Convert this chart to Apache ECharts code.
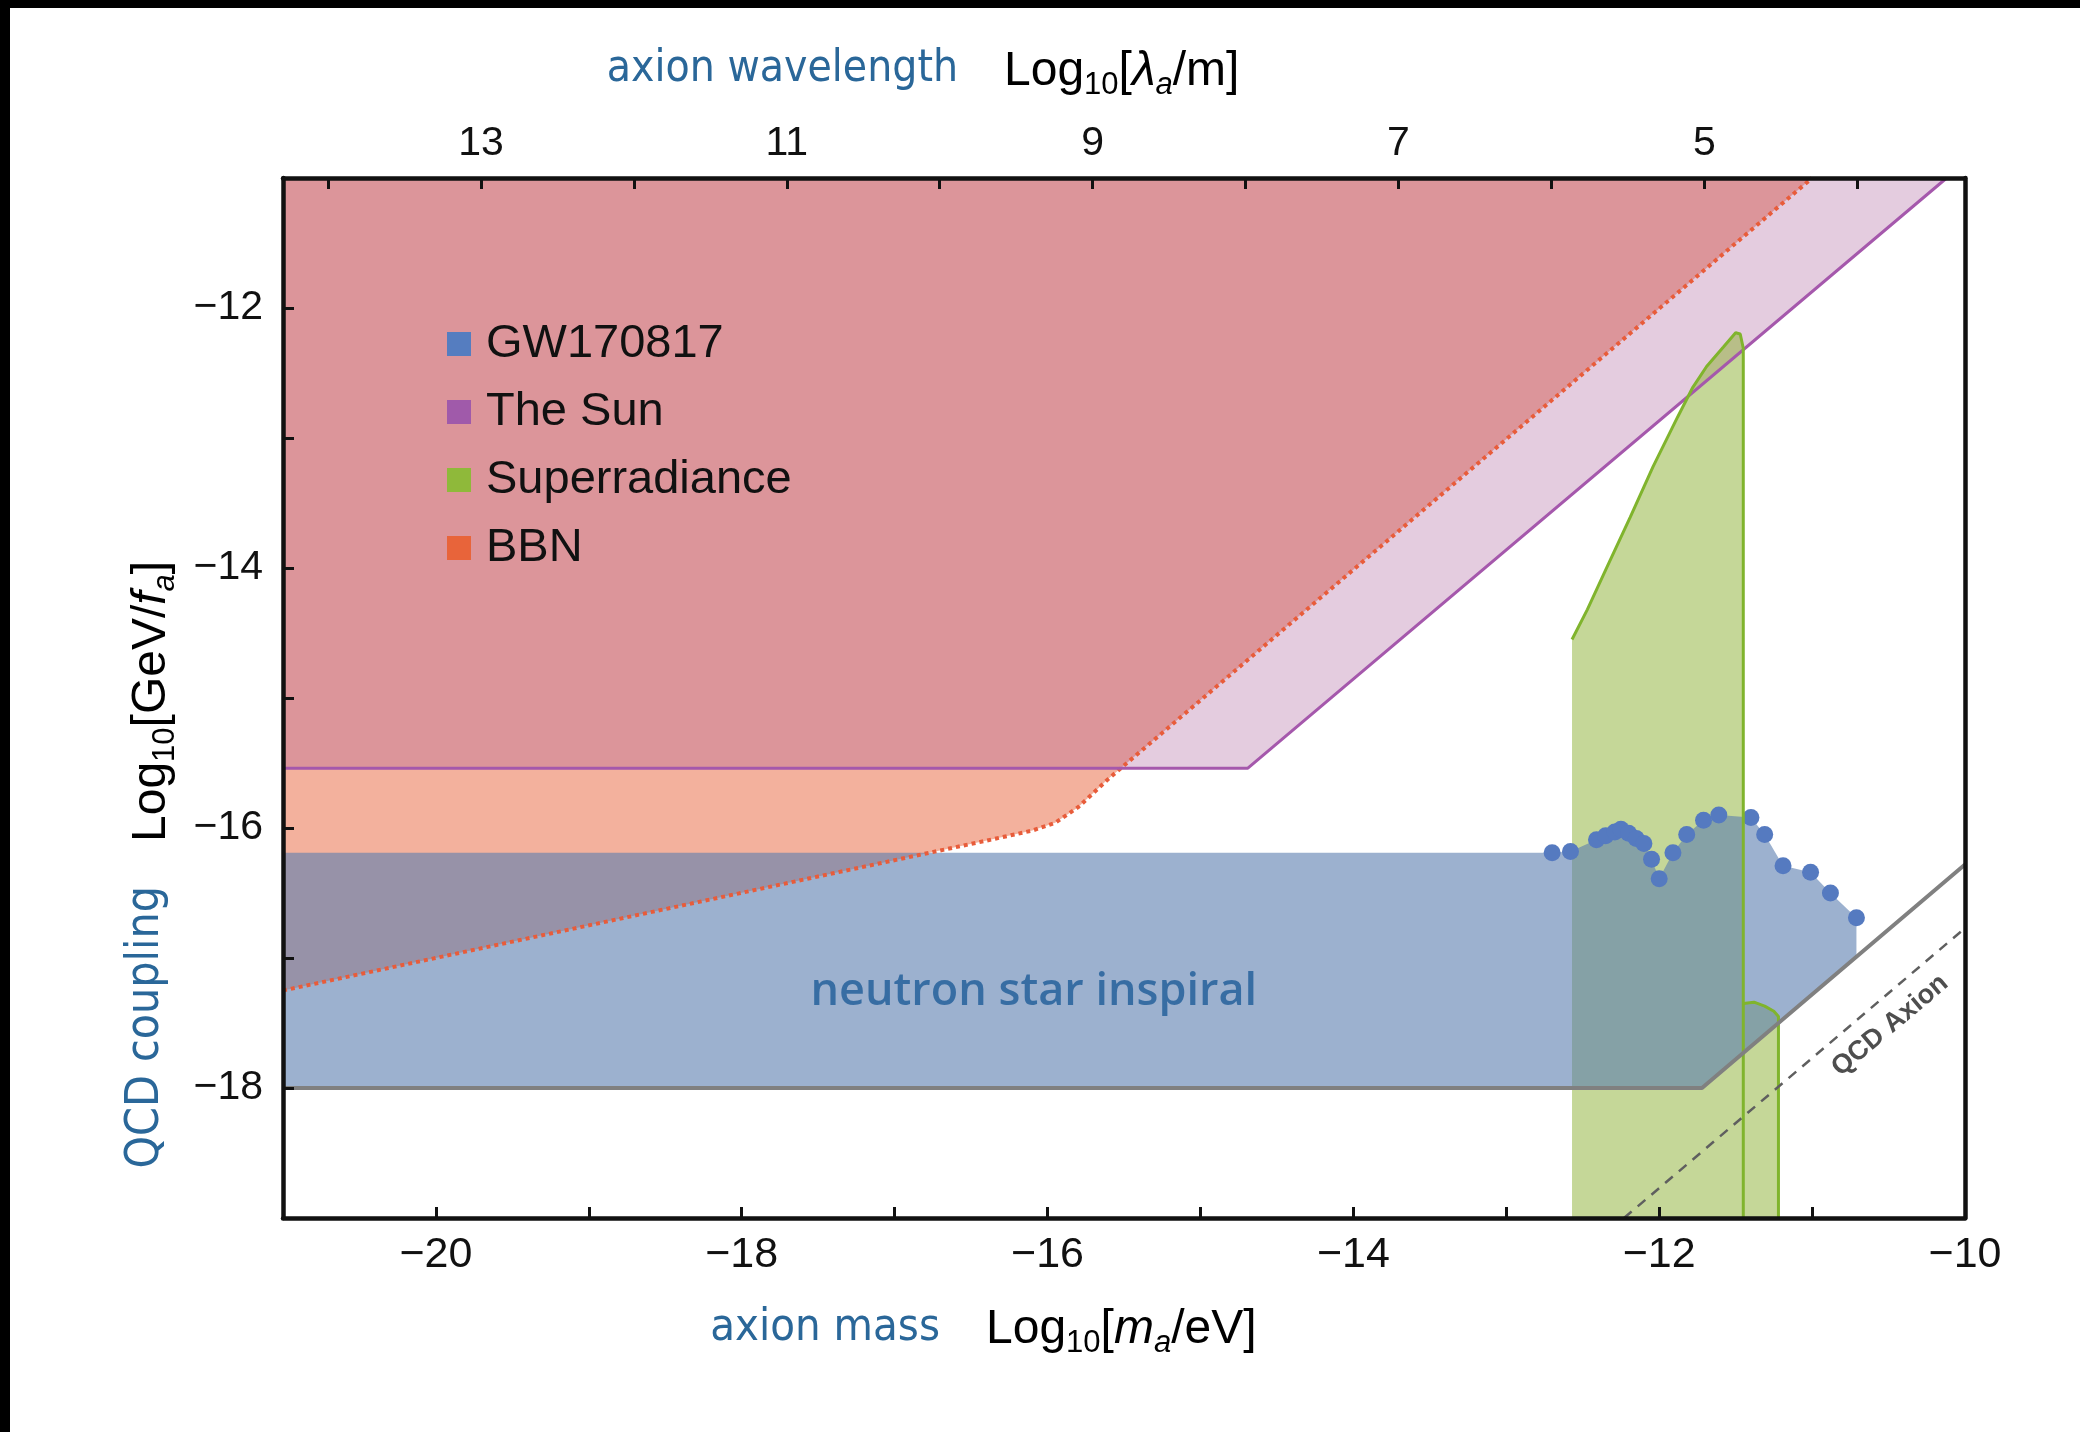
<!DOCTYPE html>
<html><head><meta charset="utf-8">
<script src="https://cdn.jsdelivr.net/npm/echarts@6/dist/echarts.min.js"></script>
<style>
html,body{margin:0;padding:0;background:#000;width:2080px;height:1432px;overflow:hidden}
#c{position:absolute;left:10px;top:8px;width:2070px;height:1424px;background:#fff}
</style></head><body><div id="c"></div>
<script>
// ---- axes ----
const massRange = [-21, -10];          // log10(m_a/eV)
const couplingRange = [-19, -11];      // log10(GeV/f_a)
const lambdaOffset = 6.705;            // log10(lambda/m) = -log10(m/eV) - 6.705
const topTickValues = [4, 5, 6, 7, 8, 9, 10, 11, 12, 13, 14];
const topLabelValues = [5, 7, 9, 11, 13];

// ---- BBN boundary (dotted) ----
const bbnM = [-21, -16.45, -16.1, -15.95, -15.8, -15.6, -11.0];
const bbnG = [-17.25, -16.11, -16.02, -15.96, -15.84, -15.62, -11.0];

// ---- The Sun boundary ----
const sunM = [-21, -14.69, -10.12];
const sunG = [-15.54, -15.54, -11.0];

// ---- Superradiance ----
const srM = [-12.57, -12.57, -12.47, -12.34, -12.19, -12.04, -11.88, -11.78, -11.69, -11.58, -11.50, -11.47, -11.45, -11.45];
const srG = [-19.0, -14.55, -14.32, -13.99, -13.61, -13.22, -12.84, -12.61, -12.45, -12.30, -12.19, -12.20, -12.31, -19.0];
const sr2M = [-11.45, -11.45, -11.38, -11.31, -11.25, -11.22, -11.22];
const sr2G = [-19.0, -17.35, -17.34, -17.37, -17.41, -17.45, -19.0];

// ---- GW170817 ----
const gwDotM = [-12.70, -12.58, -12.41, -12.35, -12.29, -12.25, -12.20, -12.15, -12.10, -12.05, -12.00, -11.91, -11.82, -11.71, -11.61, -11.40, -11.31, -11.19, -11.01, -10.88, -10.71];
const gwDotG = [-16.19, -16.18, -16.09, -16.06, -16.03, -16.01, -16.04, -16.08, -16.12, -16.24, -16.39, -16.19, -16.05, -15.94, -15.90, -15.92, -16.05, -16.29, -16.34, -16.50, -16.69];
const gwFlatG = -16.19;
const gwEdgeM = [-10.71, -11.72, -21];
const gwEdgeG = [-16.99, -18.0, -18.0];
const grayM = [-21, -11.72, -10.0];
const grayG = [-18.0, -18.0, -16.28];

// ---- QCD axion line ----
const qcdM = [-12.23, -10.0];
const qcdG = [-19.0, -16.77];

// ---- annotations ----
const nsLabel = { text: 'neutron star inspiral', m: -16.09, g: -17.26 };
const qcdLabel = { text: 'QCD Axion', m: -10.49, g: -17.52 };

const legendNames = ['GW170817', 'The Sun', 'Superradiance', 'BBN'];
const legendColors = ['#557dc0', '#a05aaa', '#8fb93a', '#e8643a'];

const zip = (a, b) => a.map((v, i) => [v, b[i]]);

function polySeries(name, pts, fill) {
  return {
    name, type: 'custom', coordinateSystem: 'cartesian2d',
    data: pts, clip: true, silent: true, encode: { x: 0, y: 1 },
    itemStyle: { color: fill },
    renderItem(params, api) {
      if (params.dataIndex !== 0) return null;
      return { type: 'polygon', shape: { points: pts.map(p => api.coord(p)) }, style: { fill: fill } };
    }
  };
}
function lineSeries(name, pts, style) {
  return {
    name, type: 'line', data: pts, showSymbol: false, silent: true, clip: true,
    lineStyle: style, animation: false
  };
}

const bbnPoly = zip(bbnM, bbnG).concat([[-21, -11]]);
const sunPoly = zip(sunM, sunG).concat([[-21, -11]]);
const srPoly = zip(srM, srG);
const sr2Poly = zip(sr2M, sr2G);
const gwPoly = [[-21, gwFlatG]].concat(zip(gwDotM, gwDotG), zip(gwEdgeM, gwEdgeG));

const minus = v => (v < 0 ? '\u2212' : '') + Math.abs(v);

function richLog() {
  const f = 'Liberation Sans, Arial, sans-serif';
  return {
    n: { fontFamily: f, fontSize: 48, lineHeight: 58, color: '#111', verticalAlign: 'middle' },
    s: { fontFamily: f, fontSize: 31, lineHeight: 34, color: '#111', verticalAlign: 'bottom' },
    i: { fontFamily: f, fontSize: 48, lineHeight: 58, fontStyle: 'italic', color: '#111', verticalAlign: 'middle' },
    is: { fontFamily: f, fontSize: 31, lineHeight: 34, fontStyle: 'italic', color: '#111', verticalAlign: 'bottom' }
  };
}
const hand = 'DejaVu Sans Condensed, Liberation Sans Narrow, Noto Sans, sans-serif';

const chart = echarts.init(document.getElementById('c'), null, { renderer: 'canvas' });
const tickFont = { fontFamily: 'Liberation Sans, Arial, sans-serif', fontSize: 41, color: '#111' };

chart.setOption({
  animation: false,
  grid: { left: 273, top: 170, right: 115, bottom: 214, containLabel: false },
  legend: {
    orient: 'vertical', left: 432, top: 306, itemWidth: 24, itemHeight: 24, itemGap: 18,
    selectedMode: false,
    textStyle: { fontFamily: 'Liberation Sans, Arial, sans-serif', fontSize: 47, color: '#111', lineHeight: 50, padding: [0, 0, 0, 10] },
    data: legendNames.map((n, i) => ({ name: n, icon: 'rect', itemStyle: { color: legendColors[i] } }))
  },
  xAxis: [
    {
      type: 'value', position: 'bottom', min: massRange[0], max: massRange[1], interval: 1, z: 10,
      axisLine: { show: true, onZero: false, lineStyle: { color: '#111', width: 4.5 } },
      axisTick: { inside: true, length: 11, lineStyle: { color: '#111', width: 3 } },
      splitLine: { show: false },
      axisLabel: Object.assign({ margin: 16, formatter: v => (v % 2 === 0 ? minus(v) : '') }, tickFont, { fontSize: 43 })
    },
    {
      type: 'value', position: 'top', inverse: true,
      min: -massRange[1] - lambdaOffset, max: -massRange[0] - lambdaOffset, z: 10,
      axisLine: { show: true, onZero: false, lineStyle: { color: '#111', width: 4.5 } },
      axisTick: { inside: true, length: 11, customValues: topTickValues, lineStyle: { color: '#111', width: 3 } },
      splitLine: { show: false },
      axisLabel: Object.assign({ margin: 14, customValues: topLabelValues, formatter: v => String(v) }, tickFont)
    }
  ],
  yAxis: [
    {
      type: 'value', position: 'left', min: couplingRange[0], max: couplingRange[1], interval: 1, z: 10,
      axisLine: { show: true, onZero: false, lineStyle: { color: '#111', width: 4.5 } },
      axisTick: { inside: true, length: 11, lineStyle: { color: '#111', width: 3 } },
      splitLine: { show: false },
      axisLabel: Object.assign({ margin: 20, formatter: v => (v % 2 === 0 ? minus(v) : '') }, tickFont)
    },
    {
      type: 'value', position: 'right', min: couplingRange[0], max: couplingRange[1], z: 10,
      axisLine: { show: true, onZero: false, lineStyle: { color: '#111', width: 4.5 } },
      axisTick: { show: false }, axisLabel: { show: false }, splitLine: { show: false }
    }
  ],
  series: [
    polySeries('BBN', bbnPoly, 'rgba(232,100,60,0.5)'),
    lineSeries('BBN edge', zip(bbnM, bbnG), { color: 'rgb(232,92,58)', width: 4, type: 'dotted' }),
    polySeries('The Sun', sunPoly, 'rgba(165,85,150,0.3)'),
    lineSeries('Sun edge', zip(sunM, sunG), { color: 'rgb(165,88,172)', width: 3 }),
    polySeries('Superradiance', srPoly, 'rgba(140,175,50,0.5)'),
    polySeries('Superradiance 2', sr2Poly, 'rgba(140,175,50,0.5)'),
    lineSeries('SR edge', srPoly.slice(1), { color: 'rgb(128,180,45)', width: 3 }),
    lineSeries('SR edge 2', sr2Poly.slice(1), { color: 'rgb(128,180,45)', width: 3 }),
    polySeries('GW170817', gwPoly, 'rgba(90,125,175,0.6)'),
    lineSeries('GW edge', zip(grayM, grayG), { color: '#808080', width: 4 }),
    {
      name: 'GW points', type: 'scatter', data: zip(gwDotM, gwDotG), symbolSize: 17, silent: true,
      itemStyle: { color: 'rgb(85,122,192)', opacity: 1 }
    },
    lineSeries('QCD axion', zip(qcdM, qcdG), { color: '#5f5f5f', width: 2.5, type: [10, 8] }),
    {
      name: 'labels', type: 'scatter', silent: true, symbolSize: 0,
      data: [
        { value: [nsLabel.m, nsLabel.g], label: { show: true, position: 'inside', formatter: nsLabel.text,
          fontFamily: 'Open Sans, Noto Sans, sans-serif', fontWeight: 600, fontSize: 45, color: '#1f5d98' } },
        { value: [qcdLabel.m, qcdLabel.g], label: { show: true, position: 'inside', rotate: 40, formatter: qcdLabel.text,
          fontFamily: 'Liberation Sans, Arial, sans-serif', fontWeight: 'bold', fontSize: 27, color: '#222' } }
      ]
    }
  ],
  graphic: [
    { type: 'text', x: 948, y: 62, style: { text: 'axion wavelength', align: 'right', verticalAlign: 'middle',
      fontFamily: hand, fontSize: 44, fill: '#2a6799' } },
    { type: 'text', x: 994, y: 64, style: { text: '{n|Log}{s|10}{n|[}{i|\u03bb}{is|a}{n|/m]}', align: 'left', verticalAlign: 'middle',
      rich: richLog() } },
    { type: 'text', x: 930, y: 1320, style: { text: 'axion mass', align: 'right', verticalAlign: 'middle',
      fontFamily: hand, fontSize: 45, fill: '#2a6799' } },
    { type: 'text', x: 976, y: 1322, style: { text: '{n|Log}{s|10}{n|[}{i|m}{is|a}{n|/eV]}', align: 'left', verticalAlign: 'middle',
      rich: richLog() } },
    { type: 'text', x: 136, y: 878, rotation: Math.PI / 2, style: { text: 'QCD coupling', align: 'right', verticalAlign: 'middle',
      fontFamily: hand, fontSize: 46, fill: '#2a6799' } },
    { type: 'text', x: 142, y: 834, rotation: Math.PI / 2, style: { text: '{n|Log}{s|10}{n|[GeV/}{i|f}{is|a}{n|]}', align: 'left', verticalAlign: 'middle',
      rich: richLog() } }
  ]
});
</script></body></html>
